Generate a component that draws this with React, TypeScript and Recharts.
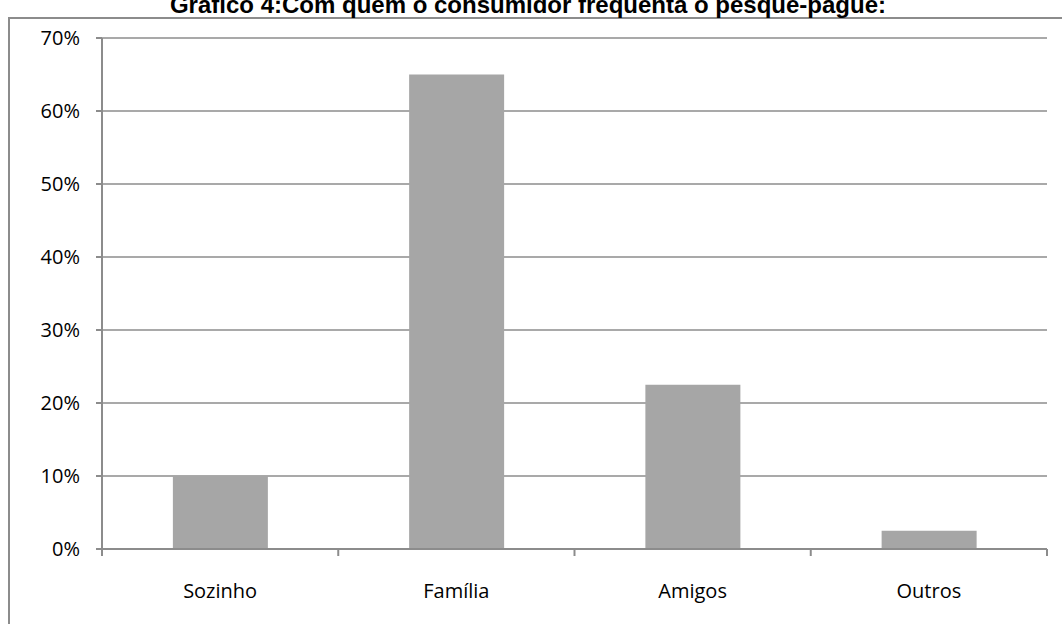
import { BarChart, Bar, XAxis, YAxis, CartesianGrid } from "recharts";

const categories = ["Sozinho", "Família", "Amigos", "Outros"];
const shares = [0.1, 0.65, 0.225, 0.025];
const yTicks = [0, 0.1, 0.2, 0.3, 0.4, 0.5, 0.6, 0.7];
const title = "Gráfico 4:Com quem o consumidor frequenta o pesque-pague:";

const W = 1062;
const H = 624;
const PLOT_LEFT = 102;
const PLOT_RIGHT = 1047;
const AXIS_GRAY = "#8c8c8c";
const FONT = "'Open Sans', Lato, sans-serif";

const data = categories.map((name, i) => ({ name, value: shares[i] }));
const band = (PLOT_RIGHT - PLOT_LEFT) / categories.length;

// category label at the band centre, tick marks on the band edges
function CategoryTick(props: any) {
  const { x, y, payload, index } = props;
  const left = x - band / 2;
  return (
    <g>
      <line x1={left} y1={y - 8} x2={left} y2={y - 1} stroke={AXIS_GRAY} strokeWidth={2} />
      {index === categories.length - 1 && (
        <line x1={left + band} y1={y - 8} x2={left + band} y2={y - 1} stroke={AXIS_GRAY} strokeWidth={2} />
      )}
      <text x={x} y={y + 41} textAnchor="middle" fontSize={20} fill="#000" fontFamily={FONT}>
        {payload.value}
      </text>
    </g>
  );
}

export default function App() {
  return (
    <div style={{ position: "absolute", left: 0, top: 0, width: W, height: H, overflow: "hidden", background: "#fff" }}>
      <svg width={W} height={H} style={{ position: "absolute", left: 0, top: 0 }}>
        <rect x={9} y={18} width={W + 20} height={H + 20} fill="none" stroke={AXIS_GRAY} strokeWidth={2} />
        <text x={528} y={13} textAnchor="middle" fontSize={24} fontWeight="bold" fontFamily="'Liberation Sans', Arial, sans-serif">
          {title}
        </text>
      </svg>
      <div style={{ position: "absolute", left: 0, top: 0 }}>
        <BarChart
          width={W}
          height={H}
          data={data}
          margin={{ top: 38, right: W - PLOT_RIGHT, bottom: 35, left: 0 }}
          barCategoryGap="30%"
        >
          <CartesianGrid horizontal vertical={false} stroke={AXIS_GRAY} strokeWidth={1.5} />
          <XAxis
            dataKey="name"
            axisLine={{ stroke: AXIS_GRAY, strokeWidth: 2 }}
            tickLine={false}
            tick={<CategoryTick />}
            height={40}
            interval={0}
          />
          <YAxis
            width={PLOT_LEFT}
            domain={[0, 0.7]}
            ticks={yTicks}
            tickFormatter={(v: number) => `${Math.round(v * 100)}%`}
            axisLine={{ stroke: AXIS_GRAY, strokeWidth: 2 }}
            tickLine={{ stroke: AXIS_GRAY, strokeWidth: 2 }}
            tickSize={6}
            tickMargin={16}
            tick={{ fontSize: 20, fill: "#000", fontFamily: FONT }}
          />
          <Bar dataKey="value" fill="#a6a6a6" isAnimationActive={false} />
        </BarChart>
      </div>
    </div>
  );
}
